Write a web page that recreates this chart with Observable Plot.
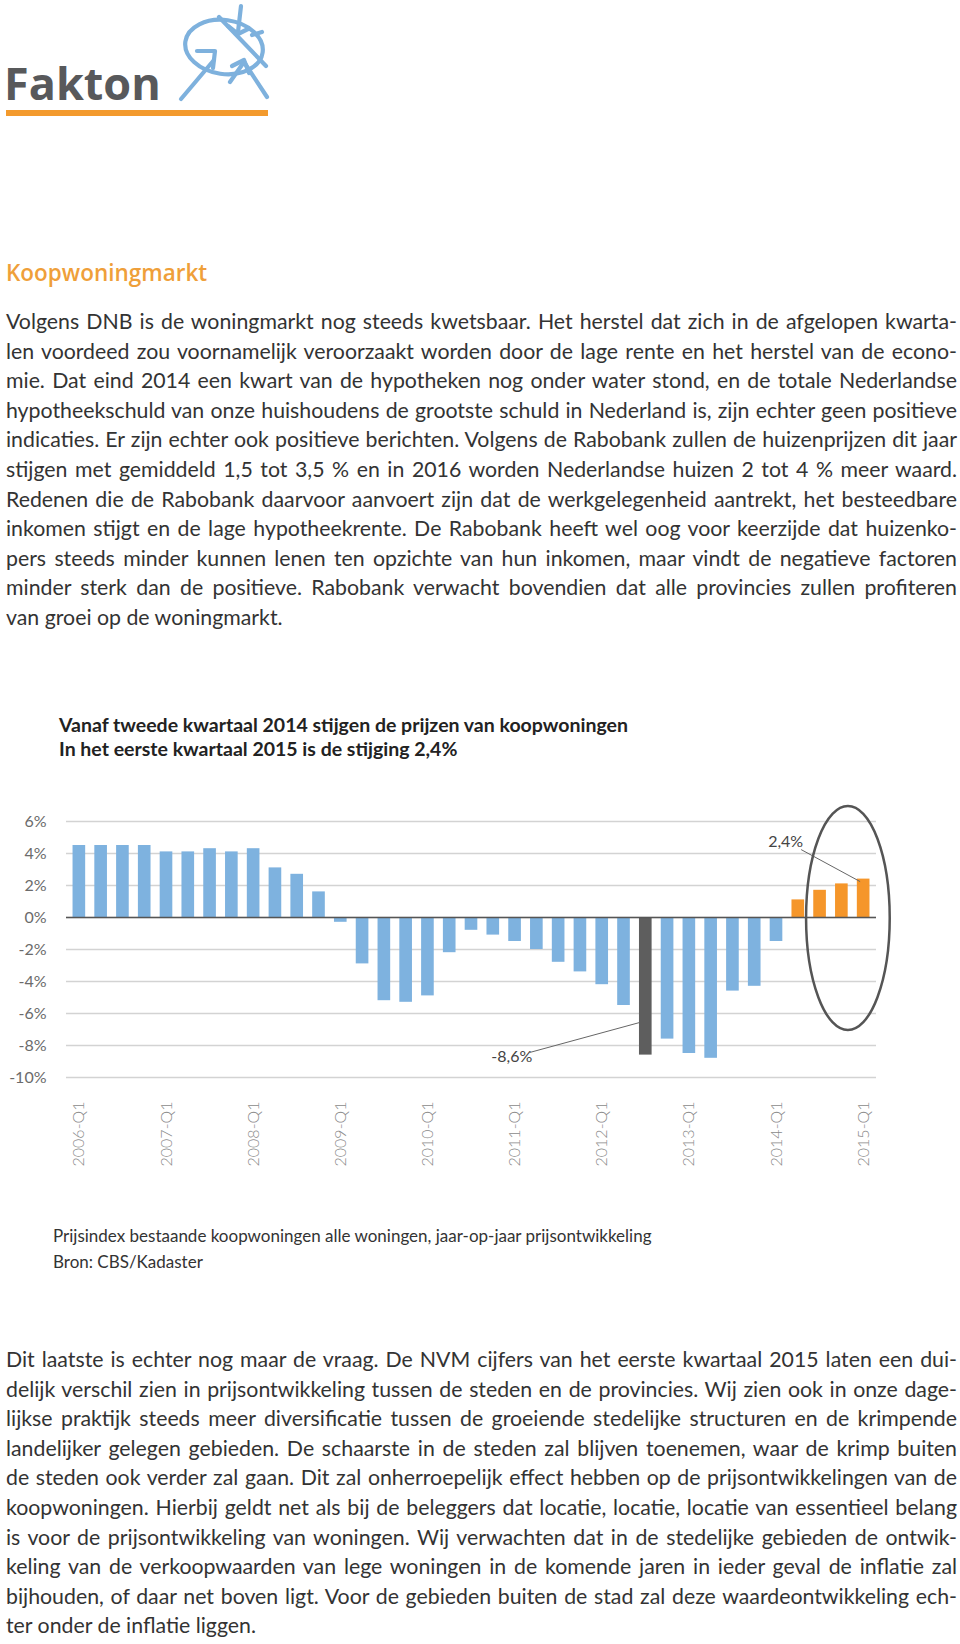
<!DOCTYPE html>
<html><head><meta charset="utf-8">
<script src="https://cdn.jsdelivr.net/npm/d3@7"></script>
<script src="https://cdn.jsdelivr.net/npm/@observablehq/plot@0.6"></script>
<style>
html,body{margin:0;padding:0;background:#fff;}
#page{position:relative;width:960px;height:1644px;overflow:hidden;font-family:Lato,"Noto Sans",sans-serif;color:#333;}
.para{position:absolute;left:6px;width:951px;font-size:21.3px;line-height:29.6px;color:#333;}
.para .ln{display:block;white-space:nowrap;}
#heading{position:absolute;left:6px;top:258px;font-family:"Open Sans",Lato,sans-serif;font-weight:600;font-size:22.5px;color:#EF9F3A;line-height:30px;}
#ctitle{position:absolute;left:59px;top:713px;font-weight:700;font-size:19.5px;line-height:24px;color:#222;}
#caption{position:absolute;left:53px;top:1223px;font-size:17px;line-height:26px;color:#333;}
#chart{position:absolute;left:0;top:790px;}
#logo{position:absolute;left:0;top:0;}
</style></head>
<body><div id="page">
<svg id="logo" width="300" height="125" viewBox="0 0 300 125">
  <text x="4" y="100" font-family="'Open Sans',Lato,sans-serif" font-weight="700" font-size="45" fill="#58595B">Fakton</text>
  <rect x="6" y="110" width="262" height="6" fill="#F39A2D"/>
  <g fill="none" stroke="#7EB1DD" stroke-width="4.2" stroke-linecap="round" stroke-linejoin="round">
    <ellipse cx="224" cy="47" rx="39" ry="27" transform="rotate(8 224 47)"/>
    <path d="M181 99 L214 60"/>
    <path d="M197 51 L215 51 L213 68"/>
    <path d="M230 82 L244 62 L267 97"/>
    <path d="M232 66 L244 60 L249 73"/>
    <path d="M241 6 L238 32"/>
    <path d="M228 26 L238 34 L248 29"/>
    <path d="M219 17 L266 66"/>
    <path d="M252 35 L262 32"/>
  </g>
</svg>
<div id="heading">Koopwoningmarkt</div>
<div class="para" id="p1" style="top:307px"></div>
<div id="ctitle">Vanaf tweede kwartaal 2014 stijgen de prijzen van koopwoningen<br>In het eerste kwartaal 2015 is de stijging 2,4%</div>
<div id="chart"></div>
<div id="caption">Prijsindex bestaande koopwoningen alle woningen, jaar-op-jaar prijsontwikkeling<br>Bron: CBS/Kadaster</div>
<div class="para" id="p2" style="top:1345px"></div>
</div>
<script>
// ---- data ----
const quarters = [
  "2006-Q1","2006-Q2","2006-Q3","2006-Q4",
  "2007-Q1","2007-Q2","2007-Q3","2007-Q4",
  "2008-Q1","2008-Q2","2008-Q3","2008-Q4",
  "2009-Q1","2009-Q2","2009-Q3","2009-Q4",
  "2010-Q1","2010-Q2","2010-Q3","2010-Q4",
  "2011-Q1","2011-Q2","2011-Q3","2011-Q4",
  "2012-Q1","2012-Q2","2012-Q3","2012-Q4",
  "2013-Q1","2013-Q2","2013-Q3","2013-Q4",
  "2014-Q1","2014-Q2","2014-Q3","2014-Q4",
  "2015-Q1"
];
const changePct = [
  4.5, 4.5, 4.5, 4.5,
  4.1, 4.1, 4.3, 4.1,
  4.3, 3.1, 2.7, 1.6,
  -0.3, -2.9, -5.2, -5.3,
  -4.9, -2.2, -0.8, -1.1,
  -1.5, -2.0, -2.8, -3.4,
  -4.2, -5.5, -8.6, -7.6,
  -8.5, -8.8, -4.6, -4.3,
  -1.5, 1.1, 1.7, 2.1,
  2.4
];
const yTicks = [6, 4, 2, 0, -2, -4, -6, -8, -10];
const xTickLabels = ["2006-Q1","2007-Q1","2008-Q1","2009-Q1","2010-Q1","2011-Q1","2012-Q1","2013-Q1","2014-Q1","2015-Q1"];
const lowQuarter = "2012-Q3";
const risingQuarters = ["2014-Q2","2014-Q3","2014-Q4","2015-Q1"];
const circledQuarters = ["2014-Q3","2014-Q4","2015-Q1"];
const annotHigh = {q: "2015-Q1", v: 2.4, text: "2,4%"};
const annotLow = {q: "2012-Q3", v: -8.6, text: "-8,6%"};

const para1 = [
  "Volgens DNB is de woningmarkt nog steeds kwetsbaar. Het herstel dat zich in de afgelopen kwarta-",
  "len voordeed zou voornamelijk veroorzaakt worden door de lage rente en het herstel van de econo-",
  "mie. Dat eind 2014 een kwart van de hypotheken nog onder water stond, en de totale Nederlandse",
  "hypotheekschuld van onze huishoudens de grootste schuld in Nederland is, zijn echter geen positieve",
  "indicaties. Er zijn echter ook positieve berichten. Volgens de Rabobank zullen de huizenprijzen dit jaar",
  "stijgen met gemiddeld 1,5 tot 3,5 % en in 2016 worden Nederlandse huizen 2 tot 4 % meer waard.",
  "Redenen die de Rabobank daarvoor aanvoert zijn dat de werkgelegenheid aantrekt, het besteedbare",
  "inkomen stijgt en de lage hypotheekrente. De Rabobank heeft wel oog voor keerzijde dat huizenko-",
  "pers steeds minder kunnen lenen ten opzichte van hun inkomen, maar vindt de negatieve factoren",
  "minder sterk dan de positieve. Rabobank verwacht bovendien dat alle provincies zullen profiteren",
  "van groei op de woningmarkt."
];
const para2 = [
  "Dit laatste is echter nog maar de vraag. De NVM cijfers van het eerste kwartaal 2015 laten een dui-",
  "delijk verschil zien in prijsontwikkeling tussen de steden en de provincies. Wij zien ook in onze dage-",
  "lijkse praktijk steeds meer diversificatie tussen de groeiende stedelijke structuren en de krimpende",
  "landelijker gelegen gebieden. De schaarste in de steden zal blijven toenemen, waar de krimp buiten",
  "de steden ook verder zal gaan. Dit zal onherroepelijk effect hebben op de prijsontwikkelingen van de",
  "koopwoningen. Hierbij geldt net als bij de beleggers dat locatie, locatie, locatie van essentieel belang",
  "is voor de prijsontwikkeling van woningen. Wij verwachten dat in de stedelijke gebieden de ontwik-",
  "keling van de verkoopwaarden van lege woningen in de komende jaren in ieder geval de inflatie zal",
  "bijhouden, of daar net boven ligt. Voor de gebieden buiten de stad zal deze waardeontwikkeling ech-",
  "ter onder de inflatie liggen."
];

// ---- paragraphs ----
function fillPara(id, lines) {
  const el = document.getElementById(id);
  lines.forEach((t, i) => {
    const d = document.createElement("div");
    d.className = "ln";
    const s = document.createElement("span");
    s.textContent = t;
    if (i < lines.length - 1) s.className = "just";
    d.appendChild(s);
    el.appendChild(d);
  });
}
fillPara("p1", para1);
fillPara("p2", para2);
function fitLines() {
  document.querySelectorAll("span.just").forEach(s => {
    s.style.wordSpacing = "0px";
    const w = s.getBoundingClientRect().width;
    const n = (s.textContent.match(/ /g) || []).length;
    if (n) s.style.wordSpacing = ((951 - w) / n) + "px";
  });
}
fitLines();
if (document.fonts && document.fonts.ready) document.fonts.ready.then(fitLines);

// ---- chart ----
const data = quarters.map((q, i) => ({q, v: changePct[i]}));
const colorOf = q => q === lowQuarter ? "#5E5E5E" : (risingQuarters.includes(q) ? "#F5962A" : "#7EB2DF");

const chart = Plot.plot({
  width: 960,
  height: 385,
  marginLeft: 66,
  marginRight: 84,
  marginTop: 31,
  marginBottom: 98,
  style: {fontFamily: "Lato, 'Noto Sans', sans-serif", background: "transparent", overflow: "visible"},
  x: {domain: quarters, paddingInner: 0.42, paddingOuter: 0.3, round: false, axis: null, label: null},
  y: {domain: [-10, 6], axis: null, label: null},
  marks: [
    Plot.ruleY(yTicks, {stroke: "#d3d3d3", strokeWidth: 1.3}),
    Plot.barY(data, {x: "q", y: "v", fill: d => colorOf(d.q)}),
    Plot.ruleY([0], {stroke: "#555", strokeWidth: 1.6}),
    Plot.axisY(yTicks, {tickSize: 0, tickPadding: 20, tickFormat: d => `${d}%`, fontSize: 16, fill: "#6b6b6b", label: null}),
    Plot.axisX(xTickLabels, {tickSize: 0, tickPadding: 24, tickRotate: -90, fontSize: 16, fill: "#8a8a8a", fontWeight: 300, label: null}),
    Plot.text([annotHigh], {x: "q", y: "v", text: "text", dx: -78, dy: -37, fontSize: 16, fill: "#444", textAnchor: "middle"}),
    Plot.text([annotLow], {x: "q", y: "v", text: "text", dx: -134, dy: 2, fontSize: 16, fill: "#444", textAnchor: "middle"})
  ]
});
document.getElementById("chart").appendChild(chart);

// leader lines and highlight ellipse, positioned through the plot's scales
const xs = chart.scale("x"), ys = chart.scale("y");
const xc = q => xs.apply(q) + xs.bandwidth / 2;
const yv = v => ys.apply(v);
const g = d3.select(chart).append("g").attr("fill", "none");
const hx = xc(annotHigh.q), hy = yv(annotHigh.v);
g.append("line").attr("x1", hx - 62).attr("y1", hy - 29).attr("x2", hx - 3).attr("y2", hy + 3)
  .attr("stroke", "#666").attr("stroke-width", 1);
const lx = xc(annotLow.q), ly = yv(annotLow.v);
g.append("line").attr("x1", lx - 116).attr("y1", ly - 2).attr("x2", lx - 6).attr("y2", ly - 32)
  .attr("stroke", "#666").attr("stroke-width", 1);
const cxs = circledQuarters.map(xc);
const cx = d3.mean(cxs) + xs.step * 0.3;
const cy = yv(0) + 1;
g.append("ellipse").attr("cx", cx).attr("cy", cy)
  .attr("rx", xs.step * 1.92).attr("ry", (yv(-7) - yv(7)) / 2)
  .attr("stroke", "#555").attr("stroke-width", 2.5);
</script>
</body></html>
